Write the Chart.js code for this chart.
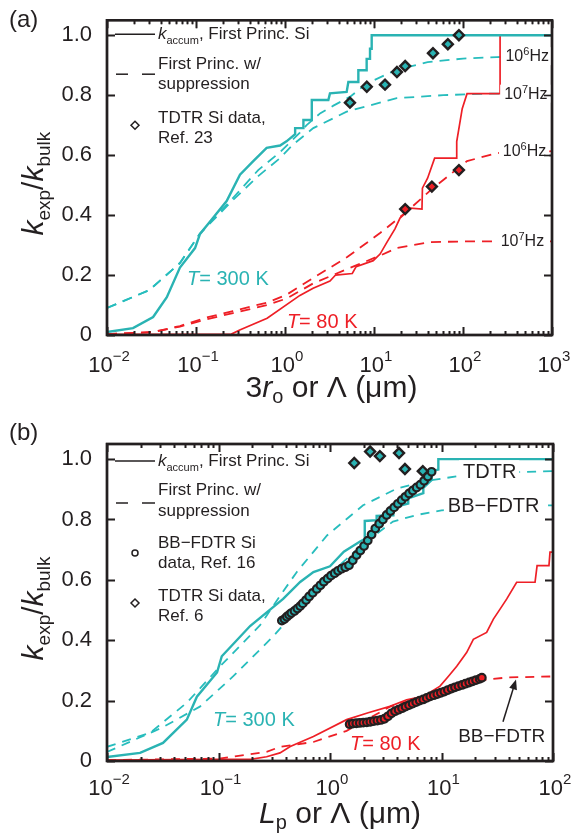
<!DOCTYPE html>
<html>
<head>
<meta charset="utf-8">
<script src="https://cdn.jsdelivr.net/npm/chart.js@4.4.1/dist/chart.umd.min.js"></script>
<style>
  html, body { margin: 0; padding: 0; background: #fff; }
  #wrap { position: relative; width: 572px; height: 839px; }
  canvas { position: absolute; left: 0; }
</style>
</head>
<body>
<div id="wrap">
  <canvas id="panelA" width="572" height="420" style="top:0"></canvas>
  <canvas id="panelB" width="572" height="419" style="top:420px"></canvas>
</div>
<script>
// ---- panel (a): x = 3r_o or Lambda (um) ----
const a300AccumX = [0.01, 0.0196, 0.033, 0.047, 0.066, 0.0975, 0.111, 0.155, 0.221, 0.312, 0.44, 0.622, 0.88, 1.04, 1.3, 1.3, 1.61, 1.61, 2.0, 2.0, 3.07, 3.2, 4.93, 5.15, 6.67, 6.67, 8.27, 8.27, 9.02, 9.02, 9.42, 9.42, 1000];
const a300AccumY = [0.01, 0.023, 0.06, 0.126, 0.225, 0.29, 0.337, 0.39, 0.447, 0.535, 0.58, 0.624, 0.632, 0.646, 0.67, 0.69, 0.69, 0.717, 0.717, 0.784, 0.784, 0.806, 0.811, 0.844, 0.844, 0.883, 0.883, 0.921, 0.921, 0.955, 0.955, 1.0, 1.0];
const a80AccumX = [0.01, 0.25, 0.31, 0.63, 1.47, 2.07, 3.2, 3.7, 5.7, 6.3, 9.8, 11.7, 14, 17.2, 19.6, 22, 24, 34.6, 35, 40, 48, 85, 85, 98, 111, 261, 261, 1000];
const a80AccumY = [0.002, 0.003, 0.017, 0.056, 0.132, 0.156, 0.18, 0.2, 0.205, 0.228, 0.248, 0.27, 0.31, 0.354, 0.39, 0.404, 0.424, 0.42, 0.49, 0.523, 0.59, 0.59, 0.645, 0.755, 0.805, 0.805, 1.0, 1.0];
const a300Sup6X = [0.01, 0.03, 0.066, 0.11, 0.26, 0.5, 0.88, 1.47, 1.75, 2.5, 3.5, 5.4, 8.3, 18, 40, 100, 240, 1000];
const a300Sup6Y = [0.09, 0.15, 0.24, 0.337, 0.457, 0.55, 0.61, 0.675, 0.70, 0.74, 0.765, 0.795, 0.839, 0.885, 0.91, 0.922, 0.927, 0.93];
const a300Sup7X = [0.01, 0.03, 0.066, 0.11, 0.26, 0.5, 0.88, 1.23, 2.08, 4.93, 18, 60, 200, 1000];
const a300Sup7Y = [0.09, 0.15, 0.24, 0.337, 0.45, 0.53, 0.59, 0.635, 0.69, 0.745, 0.79, 0.80, 0.805, 0.805];
const a80Sup6X = [0.01, 0.033, 0.066, 0.13, 0.26, 0.63, 1.05, 2.07, 5.0, 11.7, 23, 46, 111, 240, 1000];
const a80Sup6Y = [0.003, 0.01, 0.03, 0.058, 0.08, 0.108, 0.135, 0.19, 0.26, 0.34, 0.41, 0.49, 0.58, 0.607, 0.613];
const a80Sup7X = [0.01, 0.033, 0.066, 0.13, 0.26, 0.63, 1.05, 2.07, 5.0, 11.7, 18, 42, 100, 1000];
const a80Sup7Y = [0.003, 0.01, 0.028, 0.052, 0.073, 0.1, 0.122, 0.172, 0.22, 0.265, 0.29, 0.31, 0.312, 0.312];
const aTdtr300X = [5.37, 8.3, 13.3, 18.1, 22.4, 46, 67.6, 90];
const aTdtr300Y = [0.775, 0.828, 0.835, 0.877, 0.897, 0.94, 0.97, 1.0];
const aTdtr80X = [22.4, 44.7, 90];
const aTdtr80Y = [0.42, 0.495, 0.55];

// ---- panel (b): x = L_p or Lambda (um) ----
const b300AccumX = [0.01, 0.0198, 0.0318, 0.052, 0.064, 0.097, 0.107, 0.192, 0.38, 0.54, 0.71, 1.0, 1.33, 1.86, 2.05, 2.05, 2.62, 2.62, 3.7, 3.7, 5.03, 5.03, 6.87, 6.87, 8.17, 8.17, 9.37, 9.37, 100];
const b300AccumY = [0.013, 0.027, 0.06, 0.137, 0.213, 0.293, 0.347, 0.447, 0.537, 0.593, 0.626, 0.645, 0.693, 0.727, 0.735, 0.795, 0.798, 0.812, 0.814, 0.84, 0.853, 0.87, 0.887, 0.905, 0.931, 0.96, 0.965, 1.0, 1.0];
const b80AccumX = [0.01, 0.2, 0.27, 0.356, 0.44, 0.71, 1.41, 2.2, 3.45, 4.87, 6.87, 9.7, 11.5, 13.7, 16.8, 19.3, 25.4, 29.2, 33.5, 38.5, 47.2, 69, 72, 92, 94, 100];
const b80AccumY = [0.003, 0.006, 0.014, 0.027, 0.048, 0.081, 0.137, 0.16, 0.181, 0.203, 0.214, 0.248, 0.28, 0.314, 0.359, 0.403, 0.426, 0.47, 0.503, 0.537, 0.592, 0.592, 0.647, 0.647, 0.692, 0.692];
const b300SupTdtrX = [0.01, 0.0243, 0.052, 0.103, 0.236, 0.356, 0.506, 0.94, 1.98, 4.0, 8, 15, 30, 100];
const b300SupTdtrY = [0.047, 0.093, 0.193, 0.313, 0.45, 0.547, 0.627, 0.747, 0.847, 0.903, 0.93, 0.945, 0.955, 0.96];
const b300SupBbX = [0.01, 0.0194, 0.031, 0.068, 0.135, 0.31, 0.5, 1.0, 2.0, 3.67, 6, 10, 20, 40, 100];
const b300SupBbY = [0.03, 0.077, 0.11, 0.18, 0.28, 0.413, 0.5, 0.62, 0.72, 0.793, 0.815, 0.83, 0.84, 0.845, 0.847];
const b80SupX = [0.01, 0.1, 0.27, 0.356, 0.71, 1.41, 3.45, 11.1, 25.4, 40, 100];
const b80SupY = [0.003, 0.008, 0.03, 0.047, 0.063, 0.1, 0.18, 0.237, 0.27, 0.277, 0.28];
const bBb300X = [0.37, 0.39, 0.41, 0.43, 0.45, 0.48, 0.51, 0.54, 0.57, 0.61, 0.65, 0.7, 0.76, 0.82, 0.88, 0.95, 1.02, 1.1, 1.18, 1.27, 1.37, 1.48, 1.6, 1.73, 1.87, 2.02, 2.18, 2.36, 2.55, 2.76, 2.98, 3.22, 3.48, 3.76, 4.06, 4.39, 4.74, 5.12, 5.53, 5.98, 6.46, 6.98, 7.54, 8.15];
const bBb300Y = [0.465, 0.47, 0.478, 0.484, 0.49, 0.497, 0.505, 0.513, 0.522, 0.533, 0.545, 0.557, 0.57, 0.582, 0.594, 0.604, 0.614, 0.622, 0.63, 0.637, 0.642, 0.648, 0.665, 0.682, 0.697, 0.712, 0.73, 0.75, 0.77, 0.786, 0.8, 0.815, 0.828, 0.84, 0.852, 0.864, 0.875, 0.886, 0.896, 0.906, 0.915, 0.928, 0.942, 0.958];
const bBb80X = [1.5, 1.6, 1.72, 1.85, 1.99, 2.14, 2.3, 2.47, 2.66, 2.86, 3.08, 3.31, 3.56, 3.83, 4.12, 4.43, 4.76, 5.12, 5.51, 5.93, 6.37, 6.85, 7.37, 7.93, 8.53, 9.17, 9.86, 10.6, 11.4, 12.3, 13.2, 14.2, 15.3, 16.4, 17.7, 19.0, 20.4, 22.0, 23.0];
const bBb80Y = [0.122, 0.124, 0.125, 0.126, 0.127, 0.128, 0.13, 0.132, 0.134, 0.136, 0.14, 0.148, 0.158, 0.165, 0.17, 0.175, 0.18, 0.185, 0.19, 0.195, 0.2, 0.204, 0.209, 0.214, 0.218, 0.222, 0.226, 0.23, 0.235, 0.24, 0.244, 0.248, 0.252, 0.256, 0.26, 0.264, 0.268, 0.272, 0.276];
const bTdtrX = [1.65, 2.29, 2.8, 4.16, 4.7, 6.8];
const bTdtrY = [0.987, 1.025, 1.01, 1.02, 0.967, 0.96];

// ticks
const yTickValues = [0, 0.2, 0.4, 0.6, 0.8, 1.0];
const yTickLabels = ['0', '0.2', '0.4', '0.6', '0.8', '1.0'];
const xDecadesA = [0.01, 0.1, 1, 10, 100, 1000];
const xExpA = ['\u22122', '\u22121', '0', '1', '2', '3'];
const xDecadesB = [0.01, 0.1, 1, 10, 100];
const xExpB = ['\u22122', '\u22121', '0', '1', '2'];
const minorSteps = [2, 3, 4, 5, 6, 7, 8, 9];

const FONT = '"Liberation Sans", Arial, Helvetica, sans-serif';
const INK = '#231f20';
const CYAN = '#2ab3b3';
const CYAN_D = '#27bdbd';
const RED = '#ee1f26';

const pts = (xs, ys) => xs.map((x, i) => ({ x: x, y: ys[i] }));

function solid(xs, ys, color, w) {
  return { data: pts(xs, ys), borderColor: color, borderWidth: w, pointRadius: 0, fill: false };
}
function dashed(xs, ys, color, dash) {
  return { data: pts(xs, ys), borderColor: color, borderWidth: 1.8, borderDash: dash, pointRadius: 0, fill: false };
}
function marks(xs, ys, fillColor, style, r, bw) {
  return { data: pts(xs, ys), showLine: false, pointStyle: style, pointRadius: r,
    pointBackgroundColor: fillColor, pointBorderColor: INK, pointBorderWidth: bw };
}

function font(size, italic) { return (italic ? 'italic ' : '') + size + 'px ' + FONT; }
// parts: [text, size, italic, dy]
function rich(ctx, parts, x, y, align) {
  let w = 0;
  parts.forEach(p => { ctx.font = font(p[1], p[2]); w += ctx.measureText(p[0]).width; });
  let cx = align === 'center' ? x - w / 2 : (align === 'right' ? x - w : x);
  ctx.textAlign = 'left';
  ctx.textBaseline = 'alphabetic';
  parts.forEach(p => {
    ctx.font = font(p[1], p[2]);
    ctx.fillText(p[0], cx, y + (p[3] || 0));
    cx += ctx.measureText(p[0]).width;
  });
  return w;
}
function seg(ctx, x1, y1, x2, y2) { ctx.beginPath(); ctx.moveTo(x1, y1); ctx.lineTo(x2, y2); ctx.stroke(); }

// frame with inward ticks on all four sides, placed by the scales
function drawFrame(ctx, ca, x, y, decades) {
  ctx.save();
  ctx.strokeStyle = INK;
  ctx.lineWidth = 1.6;
  ctx.setLineDash([]);
  const tickX = (v, len) => {
    const px = Math.round(x.getPixelForValue(v)) + 0.5;
    seg(ctx, px, ca.bottom, px, ca.bottom - len);
    seg(ctx, px, ca.top, px, ca.top + len);
  };
  decades.forEach((d, i) => {
    tickX(d, 8);
    if (i < decades.length - 1) minorSteps.forEach(m => tickX(m * d, 4));
  });
  yTickValues.forEach(v => {
    const py = Math.round(y.getPixelForValue(v)) + 0.5;
    seg(ctx, ca.left, py, ca.left + 8, py);
    seg(ctx, ca.right, py, ca.right - 8, py);
  });
  ctx.lineWidth = 2.4;
  ctx.strokeRect(ca.left, ca.top, ca.right - ca.left, ca.bottom - ca.top);
  ctx.restore();
}

function deco(spec) {
  return {
    id: 'deco',
    afterDatasetsDraw(chart) {
      drawFrame(chart.ctx, chart.chartArea, chart.scales.x, chart.scales.y, spec.decades);
    },
    afterDraw(chart) {
      const ctx = chart.ctx, ca = chart.chartArea, x = chart.scales.x, y = chart.scales.y;
      ctx.save();
      ctx.fillStyle = INK;
      ctx.strokeStyle = INK;

      // x tick labels 10^n
      spec.decades.forEach((v, i) => {
        rich(ctx, [['10', 22], [spec.exps[i], 15, false, -11]], x.getPixelForValue(v) + 2, ca.bottom + spec.tickLabelDy, 'center');
      });
      // x title
      rich(ctx, spec.xTitle, (ca.left + ca.right) / 2 + spec.titleDx, ca.bottom + spec.titleDy, 'center');
      // y title
      ctx.save();
      ctx.translate(43, (ca.top + ca.bottom) / 2 + 6);
      ctx.rotate(-Math.PI / 2);
      rich(ctx, [['k', 30, true], ['exp', 19, false, 7], ['/', 30], ['k', 30, true], ['bulk', 19, false, 7]], 0, 0, 'center');
      ctx.restore();
      // panel letter
      rich(ctx, [[spec.letter, 24]], 9, spec.letterY, 'left');

      // legend
      const L = spec.legend, lx = 158;
      ctx.lineWidth = 1.5;
      seg(ctx, 115, ca.top + L.solid, 155, ca.top + L.solid);
      seg(ctx, 116, ca.top + L.dash, 128, ca.top + L.dash);
      seg(ctx, 142, ca.top + L.dash, 155, ca.top + L.dash);
      rich(ctx, [['k', 17, true], ['accum', 11, false, 5], [', First Princ. Si', 17]], lx, ca.top + L.solidText, 'left');
      rich(ctx, [['First Princ. w/', 17]], lx, ca.top + L.dashText[0], 'left');
      rich(ctx, [['suppression', 17]], lx, ca.top + L.dashText[1], 'left');
      L.marks.forEach(m => {
        const cy = ca.top + m.y;
        ctx.lineWidth = 1.5;
        ctx.fillStyle = '#fff';
        ctx.beginPath();
        if (m.style === 'diamond') {
          ctx.moveTo(135, cy - 4); ctx.lineTo(139, cy); ctx.lineTo(135, cy + 4); ctx.lineTo(131, cy); ctx.closePath();
        } else {
          ctx.arc(135, cy, 3, 0, Math.PI * 2);
        }
        ctx.fill(); ctx.stroke();
        ctx.fillStyle = INK;
        rich(ctx, [[m.lines[0], 17]], lx, ca.top + m.text[0], 'left');
        rich(ctx, [[m.lines[1], 17]], lx, ca.top + m.text[1], 'left');
      });

      // line labels with white boxes
      spec.lineLabels.forEach(l => {
        const px = x.getPixelForValue(l.x), py = y.getPixelForValue(l.y);
        let w = 0;
        l.parts.forEach(p => { ctx.font = font(p[1], p[2]); w += ctx.measureText(p[0]).width; });
        ctx.fillStyle = '#fff';
        ctx.fillRect(px - 4, py - l.h / 2, w + 7, l.h);
        ctx.fillStyle = INK;
        rich(ctx, l.parts, px, py + l.base, 'left');
      });
      // temperature labels
      spec.tLabels.forEach(l => {
        ctx.fillStyle = l.color;
        rich(ctx, [['T', 20, true], ['= ' + l.t, 20]], x.getPixelForValue(l.x), y.getPixelForValue(l.y), 'left');
      });
      // arrow annotation
      if (spec.arrow) {
        const a = spec.arrow;
        ctx.fillStyle = INK;
        rich(ctx, [[a.text, 19]], x.getPixelForValue(a.tx), y.getPixelForValue(a.ty), 'left');
        const x1 = x.getPixelForValue(a.from[0]), y1 = y.getPixelForValue(a.from[1]);
        const x2 = x.getPixelForValue(a.to[0]), y2 = y.getPixelForValue(a.to[1]);
        ctx.lineWidth = 1.5;
        const ang = Math.atan2(y2 - y1, x2 - x1);
        seg(ctx, x1, y1, x2 - 6 * Math.cos(ang), y2 - 6 * Math.sin(ang));
        ctx.beginPath();
        ctx.moveTo(x2, y2);
        ctx.lineTo(x2 - 10 * Math.cos(ang) + 4 * Math.sin(ang), y2 - 10 * Math.sin(ang) - 4 * Math.cos(ang));
        ctx.lineTo(x2 - 10 * Math.cos(ang) - 4 * Math.sin(ang), y2 - 10 * Math.sin(ang) + 4 * Math.cos(ang));
        ctx.closePath();
        ctx.fill();
      }
      // re-draw the frame and ticks on top of the line labels
      drawFrame(ctx, ca, x, y, spec.decades);
      ctx.restore();
    }
  };
}

function makeChart(id, spec) {
  return new Chart(document.getElementById(id), {
    type: 'line',
    data: { datasets: spec.datasets },
    options: {
      responsive: false,
      animation: false,
      devicePixelRatio: 1,
      layout: { padding: spec.padding },
      plugins: { legend: { display: false }, tooltip: { enabled: false } },
      elements: { line: { tension: 0 } },
      scales: {
        x: {
          type: 'logarithmic', min: spec.decades[0], max: spec.decades[spec.decades.length - 1],
          ticks: { display: false },
          grid: { display: false }, border: { display: false },
          afterFit: s => { s.height = spec.xAxisHeight; }
        },
        y: {
          type: 'linear', min: 0, max: 1.05,
          afterBuildTicks: s => { s.ticks = yTickValues.map(v => ({ value: v })); },
          ticks: { callback: (v, i) => yTickLabels[i], font: { family: FONT, size: 22 }, color: INK, padding: 7 },
          grid: { display: false }, border: { display: false },
          afterFit: s => { s.width = 107; }
        }
      }
    },
    plugins: [deco(spec)]
  });
}

const hzLabel = e => [['10', 16], [e, 11, false, -6], ['Hz', 16]];

makeChart('panelA', {
  letter: '(a)', letterY: 27,
  padding: { top: 19, right: 20, left: 0, bottom: 0 },
  xAxisHeight: 85, tickLabelDy: 37, titleDy: 62, titleDx: 2,
  decades: xDecadesA, exps: xExpA,
  xTitle: [['3', 30], ['r', 30, true], ['o', 20, false, 6], [' or \u039b (\u03bcm)', 30]],
  datasets: [
    marks(aTdtr300X, aTdtr300Y, CYAN, 'rectRot', 5, 2.4),
    marks(aTdtr80X, aTdtr80Y, RED, 'rectRot', 5, 2.4),
    solid(a300AccumX, a300AccumY, CYAN, 2.4),
    solid(a80AccumX, a80AccumY, RED, 1.7),
    dashed(a300Sup6X, a300Sup6Y, CYAN_D, [10, 7]),
    dashed(a300Sup7X, a300Sup7Y, CYAN_D, [10, 7]),
    dashed(a80Sup6X, a80Sup6Y, RED, [10, 7]),
    dashed(a80Sup7X, a80Sup7Y, RED, [10, 7])
  ],
  legend: {
    solid: 14, solidText: 19, dash: 54, dashText: [49, 69],
    marks: [{ style: 'diamond', y: 105, text: [103, 123], lines: ['TDTR Si data,', 'Ref. 23'] }]
  },
  lineLabels: [
    { x: 300, y: 0.93, parts: hzLabel('6'), h: 18, base: 5 },
    { x: 290, y: 0.805, parts: hzLabel('7'), h: 18, base: 5 },
    { x: 280, y: 0.613, parts: hzLabel('6'), h: 18, base: 5 },
    { x: 265, y: 0.312, parts: hzLabel('7'), h: 18, base: 5 }
  ],
  tLabels: [
    { t: '300 K', x: 0.0793, y: 0.166, color: CYAN },
    { t: '80 K', x: 1.05, y: 0.023, color: RED }
  ]
});

makeChart('panelB', {
  letter: '(b)', letterY: 20,
  padding: { top: 24, right: 19, left: 0, bottom: 0 },
  xAxisHeight: 78, tickLabelDy: 34, titleDy: 62, titleDx: 10,
  decades: xDecadesB, exps: xExpB,
  xTitle: [['L', 30, true], ['p', 20, false, 6], [' or \u039b (\u03bcm)', 30]],
  datasets: [
    marks(bTdtrX, bTdtrY, CYAN, 'rectRot', 5, 2.4),
    marks(bBb300X, bBb300Y, CYAN, 'circle', 3.8, 2.2),
    marks(bBb80X, bBb80Y, RED, 'circle', 3.8, 2.2),
    solid(b300AccumX, b300AccumY, CYAN, 2.4),
    solid(b80AccumX, b80AccumY, RED, 1.7),
    dashed(b300SupTdtrX, b300SupTdtrY, CYAN_D, [9, 7]),
    dashed(b300SupBbX, b300SupBbY, CYAN_D, [9, 7]),
    dashed(b80SupX, b80SupY, RED, [9, 7])
  ],
  legend: {
    solid: 17, solidText: 22, dash: 59, dashText: [51, 72],
    marks: [
      { style: 'circle', y: 109, text: [104, 124], lines: ['BB\u2212FDTR Si', 'data, Ref. 16'] },
      { style: 'diamond', y: 159, text: [157, 177], lines: ['TDTR Si data,', 'Ref. 6'] }
    ]
  },
  lineLabels: [
    { x: 15.6, y: 0.96, parts: [['TDTR', 20]], h: 22, base: 7 },
    { x: 11.4, y: 0.847, parts: [['BB\u2212FDTR', 20]], h: 22, base: 7 }
  ],
  tLabels: [
    { t: '300 K', x: 0.0893, y: 0.117, color: CYAN },
    { t: '80 K', x: 1.51, y: 0.037, color: RED }
  ],
  arrow: { text: 'BB\u2212FDTR', tx: 14.1, ty: 0.063, from: [35.6, 0.13], to: [46.6, 0.27] }
});
</script>
</body>
</html>
